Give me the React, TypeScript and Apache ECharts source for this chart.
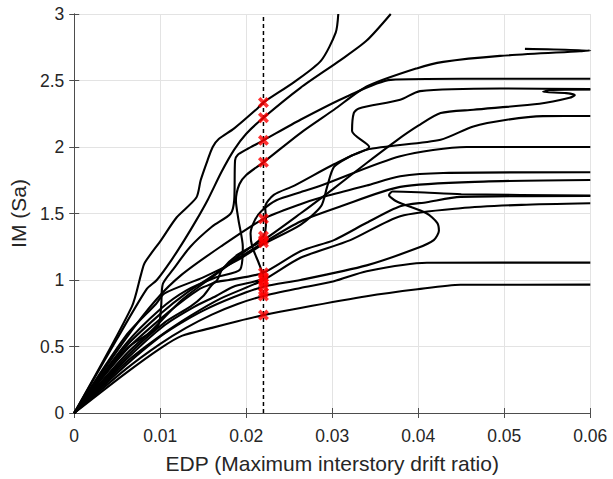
import React, { useEffect, useRef } from "react";
import * as echarts from "echarts";

// x: EDP (max interstory drift ratio), y: IM (Sa)
const xTicks = [0, 0.01, 0.02, 0.03, 0.04, 0.05, 0.06];
const yTicks = [0, 0.5, 1, 1.5, 2, 2.5, 3];

const curveC1 = [[0,0],[0.0067,0.8],[0.0078,1.05],[0.0082,1.13],[0.0101,1.3],[0.0119,1.47],[0.0142,1.62],[0.0147,1.75],[0.0155,1.9],[0.0161,2.0],[0.0168,2.06],[0.0186,2.14],[0.0213,2.29],[0.022,2.335],[0.0256,2.49],[0.0287,2.65],[0.0304,2.86],[0.0307,3.0]];
const curveC2 = [[0,0],[0.005,0.56],[0.0084,0.93],[0.0096,1.0],[0.0113,1.15],[0.0128,1.3],[0.0142,1.45],[0.0155,1.6],[0.0171,1.81],[0.0186,1.98],[0.02,2.1],[0.022,2.22],[0.0263,2.445],[0.031,2.655],[0.034,2.8],[0.0368,3.0]];
const curveC3 = [[0,0],[0.006,0.48],[0.0097,0.65],[0.0101,0.8],[0.0103,0.97],[0.0115,1.08],[0.0135,1.25],[0.016,1.4],[0.0182,1.5],[0.0186,1.6],[0.0187,1.9],[0.019,1.94],[0.02,1.98],[0.022,2.05],[0.0263,2.205],[0.0317,2.38],[0.0368,2.505],[0.045,2.513],[0.06,2.513]];
const curveC4 = [[0,0],[0.006,0.52],[0.01,0.78],[0.013,0.92],[0.0165,1.02],[0.0193,1.08],[0.0196,1.25],[0.0191,1.45],[0.0188,1.6],[0.0192,1.72],[0.02,1.79],[0.022,1.885],[0.0263,2.105],[0.0302,2.28],[0.034,2.455],[0.0399,2.593],[0.0429,2.64],[0.0495,2.685],[0.0588,2.72],[0.06,2.725],[0.0524,2.738]];
const curveF = [[0,0],[0.006,0.56],[0.0095,0.85],[0.0125,1.04],[0.017,1.25],[0.022,1.46],[0.0263,1.57],[0.0287,1.62],[0.034,1.71],[0.0379,1.78],[0.0429,1.805],[0.06,1.81]];
const curveE = [[0,0],[0.006,0.5],[0.0101,0.75],[0.013,0.9],[0.0165,1.05],[0.0195,1.2],[0.022,1.33],[0.0223,1.45],[0.0222,1.55],[0.0232,1.64],[0.0256,1.71],[0.0302,1.87],[0.034,1.98],[0.0426,2.055],[0.0464,2.155],[0.0503,2.205],[0.0545,2.232],[0.06,2.233]];
const curveW = [[0,0],[0.006,0.47],[0.011,0.76],[0.0145,0.93],[0.0165,0.99],[0.0172,1.08],[0.019,1.19],[0.022,1.3],[0.0263,1.5],[0.03,1.68],[0.034,1.88],[0.0375,2.05],[0.04,2.16],[0.0426,2.255],[0.0464,2.28],[0.0541,2.325],[0.0576,2.37],[0.0582,2.39],[0.0572,2.405],[0.0545,2.415],[0.0553,2.428],[0.06,2.432]];
const curveG = [[0,0],[0.006,0.44],[0.009,0.62],[0.0125,0.85],[0.016,1.02],[0.019,1.16],[0.022,1.28],[0.0263,1.44],[0.031,1.554],[0.0379,1.7],[0.0476,1.74],[0.06,1.752]];
const curveS = [[0,0],[0.006,0.58],[0.0095,0.82],[0.0105,0.9],[0.015,1.02],[0.019,1.15],[0.022,1.27],[0.0263,1.415],[0.0287,1.555],[0.0294,1.7],[0.0302,1.85],[0.0321,1.93],[0.0343,2.0],[0.0323,2.12],[0.0325,2.255],[0.0331,2.29],[0.0379,2.355],[0.0402,2.42],[0.0495,2.44],[0.06,2.435]];
const curveH = [[0,0],[0.006,0.42],[0.0105,0.68],[0.0135,0.8],[0.015,0.88],[0.0163,0.98],[0.018,1.0],[0.022,1.055],[0.0263,1.216],[0.0302,1.3],[0.034,1.43],[0.0379,1.554],[0.041,1.585],[0.0449,1.625],[0.06,1.632]];
const curveD = [[0,0],[0.006,0.4],[0.0105,0.66],[0.014,0.8],[0.0165,0.88],[0.0185,0.95],[0.022,1.02],[0.0215,1.12],[0.0207,1.25],[0.0205,1.35],[0.021,1.45],[0.0218,1.52],[0.0235,1.6],[0.0263,1.66],[0.0287,1.71],[0.0379,1.93],[0.0456,2.0],[0.06,2.0]];
const curveI = [[0,0],[0.006,0.38],[0.01,0.58],[0.0135,0.73],[0.017,0.86],[0.022,1.0],[0.0263,1.167],[0.0321,1.3],[0.0379,1.48],[0.0449,1.54],[0.052,1.565],[0.06,1.577]];
const curveLoop = [[0,0],[0.006,0.36],[0.0095,0.55],[0.012,0.66],[0.015,0.77],[0.0185,0.87],[0.022,0.95],[0.0263,1.0],[0.034,1.11],[0.0399,1.24],[0.0418,1.3],[0.0424,1.37],[0.0422,1.43],[0.041,1.5],[0.0375,1.59],[0.0366,1.64],[0.037,1.665],[0.04,1.66],[0.045,1.645],[0.06,1.635]];
const curveJ = [[0,0],[0.006,0.33],[0.01,0.52],[0.013,0.64],[0.016,0.74],[0.019,0.82],[0.022,0.88],[0.0263,0.94],[0.0302,0.99],[0.034,1.066],[0.041,1.13],[0.06,1.131]];
const curveLow = [[0,0],[0.006,0.3],[0.0101,0.49],[0.0125,0.58],[0.016,0.64],[0.019,0.69],[0.022,0.736],[0.0263,0.79],[0.034,0.878],[0.0399,0.93],[0.0449,0.964],[0.06,0.965]];

const curves = [curveC1, curveC2, curveC3, curveC4, curveF, curveE, curveW, curveG, curveS, curveH, curveD, curveI, curveLoop, curveJ, curveLow];

const edpLimit = 0.022;
const markerIM = [2.335, 2.22, 2.05, 1.885, 1.46, 1.33, 1.3, 1.28, 1.055, 1.02, 1.0, 0.975, 0.95, 0.905, 0.88, 0.736];

const FONT = "Liberation Sans, Arial, sans-serif";
const xSymbol = "path://M0,2.3 L2.3,0 L5,2.7 L7.7,0 L10,2.3 L7.3,5 L10,7.7 L7.7,10 L5,7.3 L2.3,10 L0,7.7 L2.7,5 Z";

export default function App() {
  const ref = useRef<HTMLDivElement>(null);
  useEffect(() => {
    if (!ref.current) return;
    const chart = echarts.init(ref.current, null, { renderer: "svg" });
    const axisLine = { show: true, lineStyle: { color: "#4d4d4d", width: 1 } };
    const tick = { show: true, inside: true, length: 5, lineStyle: { color: "#4d4d4d", width: 1 } };
    const grid = { show: true, lineStyle: { color: "#e3e3e3", width: 1 } };
    const series: any[] = curves.map((c, i) => ({
      type: "line",
      name: "c" + i,
      data: c,
      showSymbol: false,
      symbol: "none",
      smooth: 0.25,
      lineStyle: { color: "#000", width: 2.1 },
      z: 3,
      silent: true,
    }));
    series.push({
      type: "line",
      data: [[edpLimit, yTicks[0]], [edpLimit, yTicks[yTicks.length - 1]]],
      symbol: "none",
      lineStyle: { color: "#000", width: 1.5, type: [4, 3] },
      z: 2,
    });
    series.push({
      type: "scatter",
      data: markerIM.map((v) => [edpLimit, v]),
      symbol: xSymbol,
      symbolSize: 11,
      itemStyle: { color: "#ff0000" },
      z: 5,
    });
    chart.setOption({
      animation: false,
      backgroundColor: "#fff",
      grid: { left: 72.5, right: 22.7, top: 14, bottom: 65.3, containLabel: false },
      xAxis: [
        {
          type: "value",
          min: xTicks[0],
          max: xTicks[xTicks.length - 1],
          interval: 0.01,
          position: "bottom",
          axisLine,
          axisTick: tick,
          splitLine: grid,
          axisLabel: { color: "#262626", fontSize: 17.5, fontFamily: FONT, margin: 14 },
          name: "EDP (Maximum interstory drift ratio)",
          nameLocation: "middle",
          nameGap: 40,
          nameTextStyle: { color: "#262626", fontSize: 21, fontFamily: FONT },
        },
        {
          type: "value",
          min: xTicks[0],
          max: xTicks[xTicks.length - 1],
          interval: 0.01,
          position: "top",
          axisLine,
          axisTick: tick,
          splitLine: { show: false },
          axisLabel: { show: false },
        },
      ],
      yAxis: [
        {
          type: "value",
          min: yTicks[0],
          max: yTicks[yTicks.length - 1],
          interval: 0.5,
          position: "left",
          axisLine,
          axisTick: tick,
          splitLine: grid,
          axisLabel: { color: "#262626", fontSize: 17.5, fontFamily: FONT, margin: 10 },
          name: "IM (Sa)",
          nameLocation: "middle",
          nameGap: 42,
          nameTextStyle: { color: "#262626", fontSize: 21, fontFamily: FONT },
        },
        {
          type: "value",
          min: yTicks[0],
          max: yTicks[yTicks.length - 1],
          interval: 0.5,
          position: "right",
          axisLine,
          axisTick: tick,
          splitLine: { show: false },
          axisLabel: { show: false },
        },
      ],
      series,
    });
    return () => chart.dispose();
  }, []);
  return (
    <div
      ref={ref}
      style={{ position: "fixed", left: 0, top: 0, width: 613, height: 479, background: "#fff" }}
    />
  );
}
